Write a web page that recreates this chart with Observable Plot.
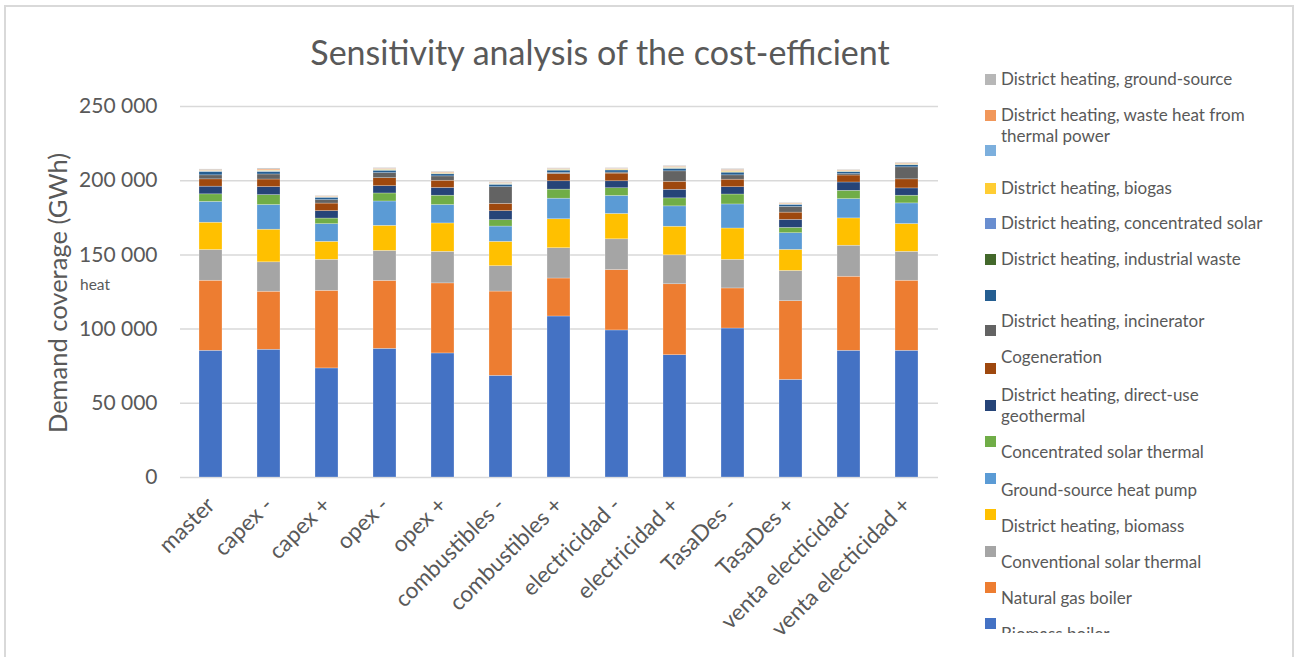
<!DOCTYPE html>
<html>
<head>
<meta charset="utf-8">
<script src="https://cdn.jsdelivr.net/npm/d3@7"></script>
<script src="https://cdn.jsdelivr.net/npm/@observablehq/plot@0.6"></script>
<style>
  html, body { margin: 0; padding: 0; background: #fff; }
  #wrap { position: relative; width: 1297px; height: 657px; overflow: hidden; font-family: Lato, "Open Sans", sans-serif; color: #595959; }
  #frame { position: absolute; left: 4px; top: 5px; width: 1290px; height: 700px; border: 2px solid #D9D9D9; box-sizing: border-box; }
  #chart { position: absolute; left: 0; top: 0; }
  #title { position: absolute; left: 0; width: 1200px; top: 31px; text-align: center; font-size: 34px; white-space: nowrap; }
  #ytitle { position: absolute; left: 57px; top: 293px; transform: translate(-50%, -50%) rotate(-90deg); font-size: 25.5px; white-space: nowrap; }
  #heat { position: absolute; left: 80px; top: 275px; font-size: 15.5px; }
  #legend { position: absolute; left: 985px; top: 0; width: 305px; height: 633px; overflow: hidden; }
  .sw { position: absolute; left: 0; width: 11px; height: 11px; }
  .lt { position: absolute; left: 16px; width: 274px; font-size: 17px; line-height: 21px; }
</style>
</head>
<body>
<div id="wrap">
  <div id="frame"></div>
  <div id="chart"></div>
  <div id="title">Sensitivity analysis of the cost-efficient</div>
  <div id="ytitle">Demand coverage (GWh)</div>
  <div id="heat">heat</div>
  <div id="legend"></div>
</div>
<script>
// Scenarios of the sensitivity analysis
const scenarios = ["master", "capex -", "capex +", "opex -", "opex +", "combustibles -", "combustibles +",
  "electricidad -", "electricidad +", "TasaDes -", "TasaDes +", "venta electicidad-", "venta electicidad +"];

// Heat demand coverage by technology, GWh (stacking order bottom to top)
const biomassBoiler      = [85400, 86100, 73500, 86700, 83600, 68500, 108500, 99100, 82400, 100400, 65800, 85400, 85400];
const naturalGasBoiler   = [47200, 39100, 52300, 45800, 47200, 56800, 25600, 40700, 47800, 27000, 53000, 49900, 47200];
const convSolarThermal   = [20700, 19800, 20900, 20200, 21300, 17100, 20400, 20700, 19500, 19300, 20400, 20900, 19500];
const dhBiomass          = [18400, 22000, 12100, 16900, 19100, 16400, 19500, 17100, 19300, 21100, 14200, 18400, 18700];
const groundSourceHP     = [14000, 16600, 11900, 16400, 12400, 10300, 13900, 12100, 13700, 16200, 11200, 13000, 13900];
const concSolarThermal   = [5100, 6700, 3800, 5400, 6300, 4300, 6100, 5200, 5400, 6700, 3600, 5600, 5200];
const dhGeothermal       = [5200, 5400, 5000, 4900, 5200, 6100, 5600, 4700, 5800, 4900, 5400, 5600, 4900];
const cogeneration       = [4900, 5100, 5100, 5400, 4900, 4900, 4900, 5200, 5400, 5100, 4900, 4700, 6100];
const dhIncinerator      = [2700, 3400, 2300, 3400, 2900, 11200, 700, 700, 7000, 2900, 3800, 900, 8100];
const unnamedA           = [2300, 1600, 1600, 1600, 1400, 1600, 1600, 1400, 1600, 1800, 1400, 1400, 1400];
const dhIndustrialWaste  = [150, 200, 100, 150, 150, 150, 150, 150, 200, 200, 100, 150, 150];
const dhConcSolar        = [150, 250, 150, 200, 200, 200, 150, 150, 200, 250, 150, 150, 200];
const dhBiogas           = [350, 500, 300, 400, 400, 400, 350, 350, 450, 550, 300, 350, 400];
const unnamedB           = [150, 200, 100, 150, 150, 150, 120, 120, 170, 200, 100, 120, 150];
const dhWasteHeat        = [450, 650, 350, 450, 450, 450, 400, 400, 500, 650, 350, 400, 450];
const dhGroundSource     = [450, 630, 350, 450, 450, 450, 400, 400, 500, 620, 350, 400, 450];

const seriesNames = ["Biomass boiler", "Natural gas boiler", "Conventional solar thermal", "District heating, biomass",
  "Ground-source heat pump", "Concentrated solar thermal", "District heating, direct-use geothermal", "Cogeneration",
  "District heating, incinerator", "", "District heating, industrial waste", "District heating, concentrated solar",
  "District heating, biogas", " ", "District heating, waste heat from thermal power", "District heating, ground-source"];
const seriesValues = [biomassBoiler, naturalGasBoiler, convSolarThermal, dhBiomass, groundSourceHP, concSolarThermal,
  dhGeothermal, cogeneration, dhIncinerator, unnamedA, dhIndustrialWaste, dhConcSolar, dhBiogas, unnamedB,
  dhWasteHeat, dhGroundSource];
const seriesColors = ["#4472C4", "#ED7D31", "#A5A5A5", "#FFC000", "#5B9BD5", "#70AD47", "#264478", "#9E480E",
  "#636363", "#255E91", "#43682B", "#698ED0", "#FFCD33", "#7CAFDD", "#F1975A", "#B7B7B7"];

const yTicks = [0, 50000, 100000, 150000, 200000, 250000];

const rows = [];
seriesNames.forEach((name, si) => {
  scenarios.forEach((sc, ci) => {
    rows.push({scenario: sc, series: si, name, value: seriesValues[si][ci]});
  });
});

const fmt = d => d3.format(",")(d).replace(/,/g, " ");

const chart = Plot.plot({
  width: 960,
  height: 657,
  marginLeft: 180,
  marginRight: 22,
  marginTop: 106,
  marginBottom: 180,
  style: {fontFamily: "Lato, 'Open Sans', sans-serif", color: "#595959", background: "transparent"},
  x: {domain: scenarios, paddingInner: 0.6, paddingOuter: 0.3, label: null},
  y: {domain: [0, 250000], label: null},
  color: {domain: d3.range(seriesNames.length), range: seriesColors},
  marks: [
    Plot.ruleY(yTicks, {stroke: "#D9D9D9", strokeWidth: 1.5}),
    Plot.barY(rows, {x: "scenario", y: "value", fill: "series", order: "series",
      stroke: "#ffffff", strokeWidth: 0.5, strokeOpacity: 0.5}),
    Plot.axisY({ticks: yTicks, tickFormat: fmt, tickSize: 0, tickPadding: 23, fontSize: 21, fill: "#595959", label: null}),
    Plot.axisX({tickSize: 0, tickPadding: 24, tickRotate: -45, fontSize: 22.5, fill: "#595959", label: null})
  ]
});
document.getElementById("chart").appendChild(chart);

// Legend, listed top-down in reverse stacking order
const legendTops = [79, 115, 150, 188, 223, 259, 295, 330, 368, 405, 441, 478, 514, 551, 587, 623];
const textShift  = [0, 0, 0, 0, 0, 0, 0, -9, -11, 0, 11, 12, 12, 11, 11, 11];
const legend = document.getElementById("legend");
const order = d3.range(seriesNames.length).reverse();
order.forEach((si, k) => {
  const cy = legendTops[k];
  const sw = document.createElement("div");
  sw.className = "sw";
  sw.style.top = (cy - 5.5) + "px";
  sw.style.background = seriesColors[si];
  legend.appendChild(sw);
  const t = document.createElement("div");
  t.className = "lt";
  t.textContent = seriesNames[si];
  // the geothermal entry wraps to two lines and sits centred on its swatch
  t.style.top = (k === 9 ? cy - 21 : cy - 11 + textShift[k]) + "px";
  legend.appendChild(t);
});
</script>
</body>
</html>
